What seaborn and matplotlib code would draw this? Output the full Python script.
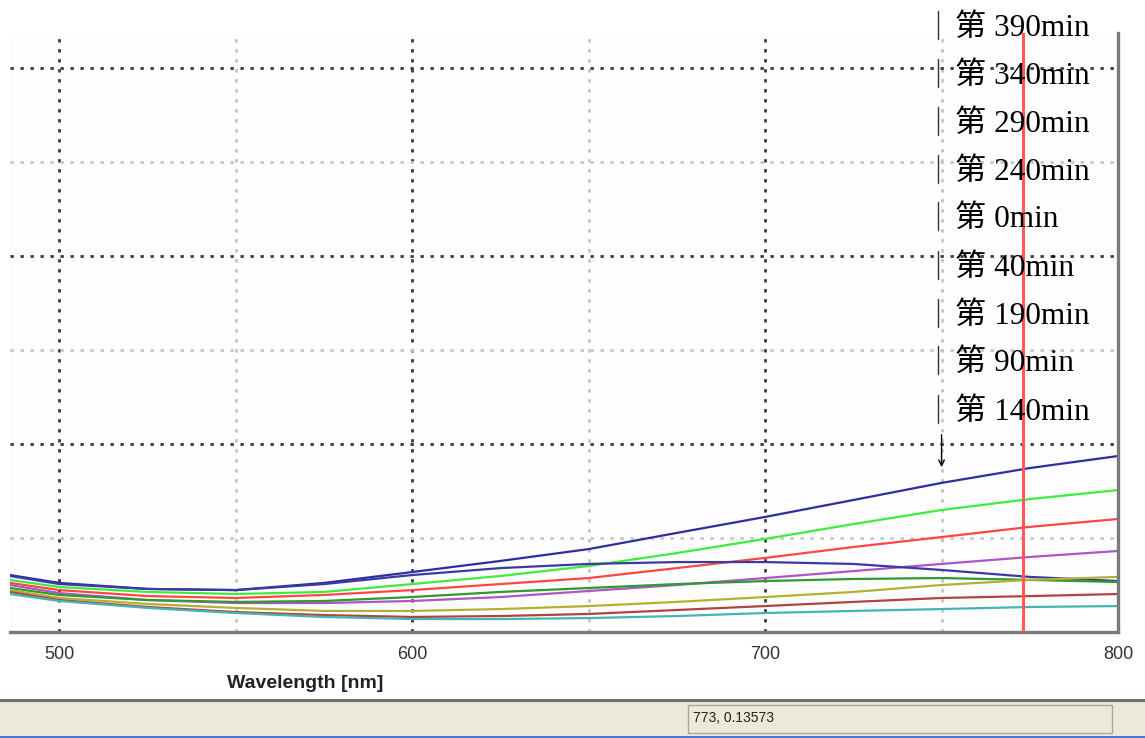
import pandas as pd
import matplotlib.pyplot as plt
import seaborn as sns
from matplotlib.lines import Line2D
from matplotlib.patches import Rectangle

sns.set_style("white")
plt.rcParams["lines.scale_dashes"] = False

OUTPUT = "out.png"

WAVELENGTH = [486, 500, 525, 550, 575, 600, 625, 650, 675, 700, 725, 750, 775, 800]

# absorbance, one list per run time
T390 = [0.0303, 0.0261, 0.0229, 0.0223, 0.0261, 0.0319, 0.0378, 0.0441, 0.0527, 0.0612, 0.0702, 0.0793, 0.0872, 0.0936]
T340 = [0.0277, 0.0239, 0.0213, 0.0202, 0.0213, 0.0255, 0.0298, 0.0351, 0.0420, 0.0495, 0.0574, 0.0649, 0.0707, 0.0755]
T290 = [0.0261, 0.0223, 0.0191, 0.0181, 0.0197, 0.0223, 0.0255, 0.0287, 0.0340, 0.0394, 0.0452, 0.0505, 0.0559, 0.0601]
T240 = [0.0250, 0.0207, 0.0170, 0.0154, 0.0154, 0.0165, 0.0186, 0.0218, 0.0250, 0.0287, 0.0324, 0.0362, 0.0399, 0.0431]
T0 = [0.0298, 0.0255, 0.0229, 0.0223, 0.0255, 0.0303, 0.0340, 0.0362, 0.0372, 0.0372, 0.0362, 0.0330, 0.0293, 0.0271]
T40 = [0.0234, 0.0197, 0.0170, 0.0160, 0.0165, 0.0186, 0.0213, 0.0234, 0.0255, 0.0271, 0.0282, 0.0287, 0.0277, 0.0266]
T190 = [0.0223, 0.0181, 0.0149, 0.0128, 0.0112, 0.0112, 0.0122, 0.0138, 0.0160, 0.0186, 0.0213, 0.0250, 0.0277, 0.0293]
T90 = [0.0213, 0.0170, 0.0133, 0.0106, 0.0090, 0.0080, 0.0085, 0.0096, 0.0117, 0.0138, 0.0160, 0.0181, 0.0191, 0.0202]
T140 = [0.0202, 0.0165, 0.0128, 0.0101, 0.0080, 0.0069, 0.0069, 0.0074, 0.0085, 0.0101, 0.0112, 0.0122, 0.0133, 0.0138]

LABELS = ["第 390min", "第 340min", "第 290min", "第 240min", "第 0min",
          "第 40min", "第 190min", "第 90min", "第 140min"]
SERIES = [T390, T340, T290, T240, T0, T40, T190, T90, T140]
COLORS = ["#2e2e9c", "#3cee3c", "#ff4646", "#b056c4", "#3a3aa4",
          "#2f9a2f", "#b4b032", "#b04444", "#44b4b4"]

CURSOR = 773
STATUS = "773, 0.13573"


def main():
    rows = []
    for lab, vals in zip(LABELS, SERIES):
        for w, v in zip(WAVELENGTH, vals):
            rows.append({"wavelength": w, "absorbance": v, "run": lab})
    df = pd.DataFrame(rows)

    W, H = 1145, 738
    fig = plt.figure(figsize=(W / 100, H / 100), dpi=100)
    ax = fig.add_axes([10 / W, 1 - 632 / H, 1108 / W, 599 / H])
    ax.set_facecolor("#fdfdfd")

    sns.lineplot(data=df, x="wavelength", y="absorbance", hue="run",
                 palette=dict(zip(LABELS, COLORS)), linewidth=1.6,
                 legend=False, ax=ax)

    ax.set_xlim(486, 800)
    ax.set_ylim(0, 0.3186)
    ax.set_xticks([500, 600, 700, 800])
    ax.set_xticks([550, 650, 750], minor=True)
    ax.set_yticks([0.1, 0.2, 0.3])
    ax.set_yticks([0.05, 0.15, 0.25], minor=True)
    ax.set_yticklabels([])
    ax.tick_params(axis="y", which="both", length=0)
    ax.tick_params(axis="x", which="major", direction="in", length=8,
                   width=1.5, color="#555555", pad=10, labelsize=13,
                   labelcolor="#333333")
    ax.tick_params(axis="x", which="minor", direction="in", length=3,
                   width=1.5, color="#555555")
    for t in ax.get_xticklabels():
        t.set_family("Liberation Sans")

    ax.grid(which="major", color="#3a3a3a", linestyle=(0, (2.4, 4.8)), linewidth=2.0)
    ax.grid(which="minor", color="#c4c4c4", linestyle=(0, (2.4, 4.8)), linewidth=2.0)
    ax.set_xlabel("")
    ax.set_ylabel("")

    for s in ["top", "left"]:
        ax.spines[s].set_visible(False)
    for s in ["right", "bottom"]:
        ax.spines[s].set_color("#7a7a7a")
        ax.spines[s].set_linewidth(2.4)

    ax.axvline(CURSOR, color="#ff5a5a", linewidth=2.2, zorder=5)
    ax.annotate("", xy=(750, 0.0862), xytext=(750, 0.1064),
                arrowprops=dict(arrowstyle="->", color="black", lw=1.0))

    fig.text(305 / W, 1 - 683 / H, "Wavelength [nm]", ha="center", va="center",
             fontsize=14, fontweight="bold", color="#222222",
             family="Liberation Sans")

    # run time labels stacked top right, each with a small bar in front
    centers = [25, 73, 121, 169, 216, 265, 313, 360, 409]
    for lab, yc in zip(LABELS, centers):
        fig.text(955 / W, 1 - (yc + 3) / H, lab, ha="left", va="center",
                 fontsize=22.5, color="black",
                 family=["Liberation Serif", "Noto Sans CJK SC"])
        fig.add_artist(Line2D([938 / W, 938 / W],
                              [1 - (yc - 14) / H, 1 - (yc + 14) / H],
                              color="#333333", lw=1.0))

    # status bar
    fig.add_artist(Rectangle((0, 0), 1, 37 / H, transform=fig.transFigure,
                             facecolor="#ece9d8", edgecolor="none"))
    fig.add_artist(Line2D([0, 1], [1 - 700 / H] * 2, color="#6e6e6e", lw=2.2))
    fig.add_artist(Rectangle((688 / W, 1 - 733 / H), 424 / W, 28 / H,
                             transform=fig.transFigure, fill=False,
                             edgecolor="#a8a8a0", lw=1.0))
    fig.add_artist(Rectangle((0, 0), 1, 2.5 / H, transform=fig.transFigure,
                             facecolor="#4a78d0", edgecolor="none"))
    fig.text(693 / W, 1 - 718 / H, STATUS, ha="left", va="center",
             fontsize=10, color="#222222", family="Liberation Sans")

    plt.savefig(OUTPUT, dpi=100, facecolor="white")
    plt.close()


if __name__ == "__main__":
    main()
